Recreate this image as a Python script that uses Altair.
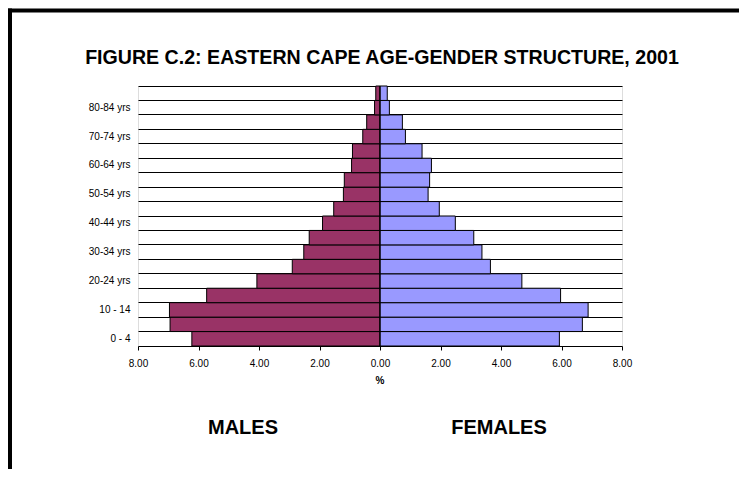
import altair as alt
import pandas as pd

# ---- data ----
ages = ["0 - 4", "5 - 9", "10 - 14", "15 - 19", "20-24 yrs", "25-29 yrs", "30-34 yrs",
        "35-39 yrs", "40-44 yrs", "45-49 yrs", "50-54 yrs", "55-59 yrs", "60-64 yrs",
        "65-69 yrs", "70-74 yrs", "75-79 yrs", "80-84 yrs", "85+ yrs"]
males = [6.22, 6.94, 6.96, 5.73, 4.07, 2.90, 2.52, 2.34, 1.90, 1.53, 1.21, 1.18,
         0.94, 0.91, 0.57, 0.44, 0.18, 0.14]
females = [5.93, 6.69, 6.88, 5.97, 4.69, 3.65, 3.37, 3.10, 2.49, 1.96, 1.59, 1.64,
           1.70, 1.39, 0.84, 0.74, 0.31, 0.24]
shown_labels = ["0 - 4", "10 - 14", "20-24 yrs", "30-34 yrs", "40-44 yrs",
                "50-54 yrs", "60-64 yrs", "70-74 yrs", "80-84 yrs"]
x_ticks = [-8, -6, -4, -2, 0, 2, 4, 6, 8]
title_text = "FIGURE C.2: EASTERN CAPE AGE-GENDER STRUCTURE, 2001"
sexes = ["Males", "Females"]
colors = ["#993366", "#9999FF"]

rows = []
for a, m, f in zip(ages, males, females):
    rows.append({"age": a, "sex": "Males", "value": -m})
    rows.append({"age": a, "sex": "Females", "value": f})
df = pd.DataFrame(rows)

FONT = "Liberation Sans"
W, H = 484, 260

order_top_down = list(reversed(ages))
label_list = "[" + ",".join("'" + s + "'" for s in shown_labels) + "]"

bars = alt.Chart(df).mark_bar(stroke="black", strokeWidth=1).encode(
    x=alt.X("value:Q",
            scale=alt.Scale(domain=[-8, 8], nice=False, zero=False),
            axis=alt.Axis(values=x_ticks, labelExpr="format(abs(datum.value), '.2f')",
                          title=None, grid=False, domainColor="black", tickColor="black",
                          tickSize=4, labelFontSize=10, labelColor="black", labelFont=FONT,
                          labelPadding=8, labelFlush=False)),
    y=alt.Y("age:N", sort=order_top_down,
            scale=alt.Scale(paddingInner=0, paddingOuter=0),
            axis=alt.Axis(title=None, grid=True, gridColor="black", gridWidth=1,
                          bandPosition=0, ticks=False, domain=False,
                          labelExpr="indexof(" + label_list + ", datum.value) >= 0 ? datum.value : ''",
                          labelFontSize=10, labelColor="black", labelFont=FONT,
                          labelPadding=8)),
    color=alt.Color("sex:N", scale=alt.Scale(domain=sexes, range=colors), legend=None),
)

zero_rule = alt.Chart(alt.Data(values=[{"v": 0}])).mark_rule(color="black", strokeWidth=1).encode(
    x=alt.X("v:Q"))

def label(text, x, y, size, bold=True):
    return alt.Chart(alt.Data(values=[{"t": text}])).mark_text(
        font=FONT, fontSize=size, fontWeight="bold" if bold else "normal",
        align="center", baseline="middle", color="black"
    ).encode(text="t:N", x=alt.value(x), y=alt.value(y))

title = label(title_text, 244, -28, 19.6)
pct = label("%", 242, 295, 10)
males_lbl = label("MALES", 105, 342, 20)
females_lbl = label("FEMALES", 361, 342, 20)

frame_top = alt.Chart(alt.Data(values=[{"a": 1}])).mark_rule(color="black", strokeWidth=4).encode(
    x=alt.value(-130), x2=alt.value(605), y=alt.value(-75.5))
frame_left = alt.Chart(alt.Data(values=[{"a": 1}])).mark_rule(color="black", strokeWidth=4).encode(
    x=alt.value(-128), y=alt.value(-77.5), y2=alt.value(400))

chart = alt.layer(bars, zero_rule, title, pct, males_lbl, females_lbl, frame_top, frame_left).properties(
    width=W, height=H,
    autosize=alt.AutoSizeParams(type="none"),
    padding={"left": 130, "top": 78, "right": 117, "bottom": 123},
).configure_view(stroke="#808080", strokeWidth=1).configure(background="white")

chart.save("out.html", embed_options={"renderer": "svg", "actions": False})
